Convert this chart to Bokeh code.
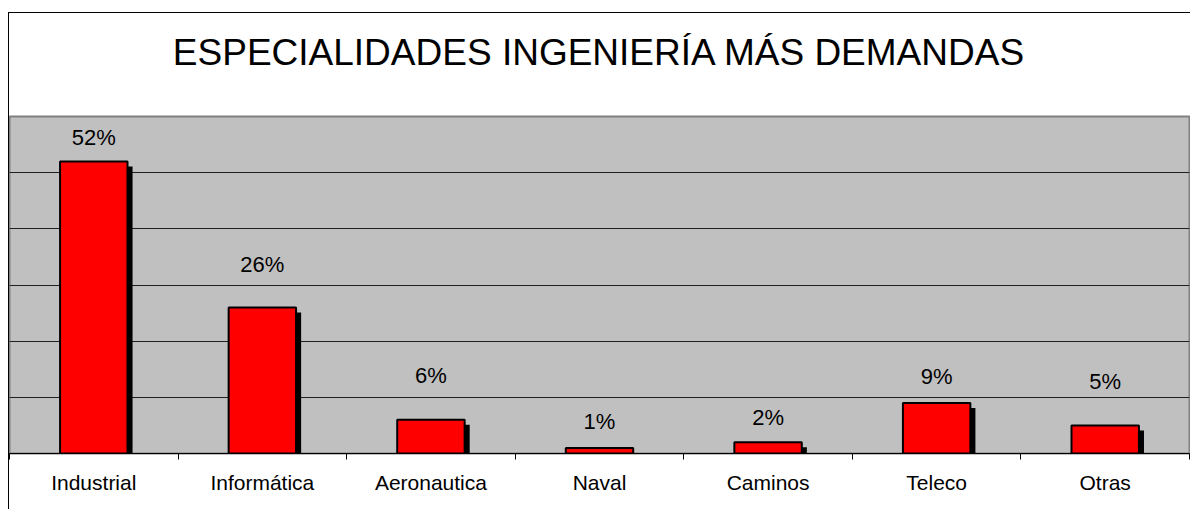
from bokeh.plotting import figure
from bokeh.models import ColumnDataSource, FixedTicker, Range1d, Title
from bokeh.core.properties import value
from bokeh.embed import file_html
from bokeh.resources import INLINE

# ---- data ----
categories = ["Industrial", "Informática", "Aeronautica", "Naval", "Caminos", "Teleco", "Otras"]
shares = [0.52, 0.26, 0.06, 0.01, 0.02, 0.09, 0.05]
share_labels = ["52%", "26%", "6%", "1%", "2%", "9%", "5%"]
y_ticks = [0.0, 0.1, 0.2, 0.3, 0.4, 0.5, 0.6]
title_text = "ESPECIALIDADES INGENIERÍA MÁS DEMANDAS"

# ---- style ----
label_gap_px = [24, 43, 44, 26, 25, 26, 44]
FONT = "Liberation Sans"
n = len(categories)
y_max = y_ticks[-1]
centers = [i + 0.5 for i in range(n)]
shadow_dx = 0.03     # ~5px in category units
shadow_dy = 0.009    # ~5px in value units

src = ColumnDataSource(dict(x=centers, top=shares, label=share_labels,
                            yoff=[-g for g in label_gap_px]))
shadow_src = ColumnDataSource(dict(x=[c + shadow_dx for c in centers],
                                   top=[v - shadow_dy for v in shares]))

p = figure(width=1182, height=497, output_backend="svg", toolbar_location=None,
           x_range=Range1d(0, n), y_range=Range1d(0, y_max),
           min_border_left=0, min_border_right=2, min_border_top=103, min_border_bottom=57,
           styles={"border-left": "1px solid black", "border-top": "1px solid black",
                   "margin-top": "12px", "margin-left": "8px"})

p.title.text = title_text
p.title.align = "center"
p.title.text_font = FONT
p.title.text_font_size = "37px"
p.title.text_font_style = "normal"
p.title.text_color = "black"
p.title.standoff = 0

# empty spacer between the title and the plot area
spacer = Title(text=" ", text_font_size="10px", standoff=31)
p.add_layout(spacer, "above")

p.background_fill_color = "#C0C0C0"
p.border_fill_color = "white"
p.outline_line_color = "#808080"
p.outline_line_width = 2

p.vbar(x="x", top="top", width=0.40, bottom=-0.05, source=shadow_src,
       fill_color="black", line_color=None)
p.vbar(x="x", top="top", width=0.40, bottom=0, source=src,
       fill_color="#FF0000", line_color="black", line_width=2)
p.text(x="x", y="top", text="label", source=src, y_offset="yoff",
       text_align="center", text_baseline="alphabetic",
       text_font=value(FONT), text_font_size="22px", text_color="black")

p.xgrid.visible = False
p.yaxis.ticker = FixedTicker(ticks=y_ticks)
p.yaxis.visible = False
p.ygrid.ticker = FixedTicker(ticks=y_ticks)
p.ygrid.grid_line_color = "#202020"
p.ygrid.grid_line_width = 1

ax = p.xaxis[0]
ax.ticker = FixedTicker(ticks=centers, minor_ticks=list(range(n + 1)))
ax.major_label_overrides = {c: name for c, name in zip(centers, categories)}
ax.major_tick_out = 0
ax.major_tick_in = 0
ax.minor_tick_out = 6
ax.minor_tick_in = 0
ax.minor_tick_line_color = "black"
ax.axis_line_color = "black"
ax.axis_line_width = 1
ax.major_label_standoff = 11
ax.major_label_text_font = FONT
ax.major_label_text_font_size = "21px"
ax.major_label_text_color = "black"

open("out.html", "w").write(file_html(p, INLINE))
